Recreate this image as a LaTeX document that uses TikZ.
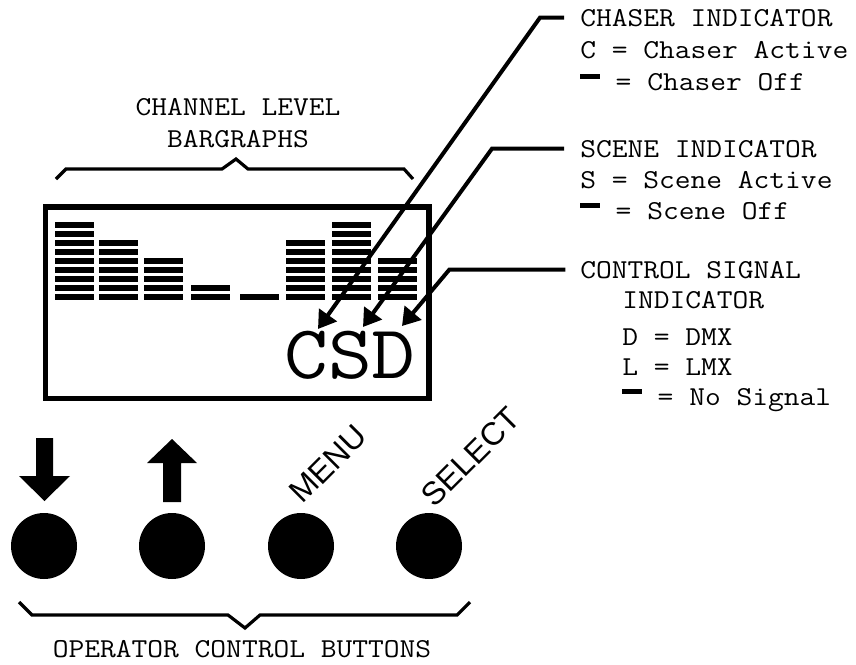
\documentclass[tikz,border=0pt]{standalone}
\usepackage{fontspec}
\usetikzlibrary{arrows.meta}
\newfontfamily\labfont[FakeStretch=1.12]{Latin Modern Mono}
\newfontfamily\btnfont{Liberation Sans}
\definecolor{ink}{HTML}{000000}
\tikzset{
  lab/.style={font=\labfont\fontsize{20.5}{24}\selectfont,anchor=base west,inner sep=0pt,text=ink},
  labc/.style={lab,anchor=base},
  big/.style={font=\labfont\fontsize{57}{62}\selectfont,anchor=base west,inner sep=0pt,text=ink},
  btnlab/.style={font=\btnfont\fontsize{24}{28}\selectfont,rotate=45,inner sep=0pt,text=ink},
  btn/.style={circle,fill=ink,minimum size=49.5pt,inner sep=0pt},
  lead/.style={-{Triangle[length=13pt,width=16pt]},line width=3pt,ink},
  brace/.style={line width=2.4pt,ink,line join=miter},
  lcd/.style={line width=4pt,ink},
  seg/.style={fill=ink}
}
\newcommand{\offbar}{\rule[0.4em]{0.72em}{0.17em}}

\begin{document}
\begin{tikzpicture}[x=0.75pt,y=-0.75pt]
\useasboundingbox (0,0) rectangle (856,664);
% ================= display =================
\draw[lcd] (45.5,207) rectangle (429,398.5);
% bargraphs: column left edge / number of segments
\foreach \x/\n in {55/9,99/7,144/5,191/2,240/1,286/7,332/9,378/5}
  {\foreach \r in {1,...,\n} {\fill[seg] (\x,300-\r*9+9) rectangle ++(39,-6);}}
\node[big] (csd) at (284,378) {CSD};
\coordinate (tipC) at (318,329);
\coordinate (tipS) at (363,327);
\coordinate (tipD) at (402,326);
% ================= bargraph label =================
\node[labc] (chan) at (238,115) {CHANNEL LEVEL};
\node[labc] (barg) at (238,147) {BARGRAPHS};
\draw[brace] (56,179) -- (66,169) -- (222,169) -- (236,159) -- (248,169) -- (404,169) -- (413,179);
% ================= indicators =================
\node[lab] (chaserT) at (580,26) {CHASER INDICATOR};
\node[lab] (chaserA) at (580,58) {C = Chaser Active};
\node[lab] (chaserO) at (580,90) {\offbar{} = Chaser Off};
\node[lab] (sceneT) at (580,157) {SCENE INDICATOR};
\node[lab] (sceneA) at (580,188) {S = Scene Active};
\node[lab] (sceneO) at (580,219) {\offbar{} = Scene Off};
\node[lab] (ctrlT) at (580,278) {CONTROL SIGNAL};
\node[lab] (ctrlI) at (622,308) {INDICATOR};
\node[lab] (ctrlD) at (622,345) {D = DMX};
\node[lab] (ctrlL) at (622,375) {L = LMX};
\node[lab] (ctrlO) at (622,405) {\offbar{} = No Signal};
\draw[lead] ([xshift=-12pt]chaserT.west) -- ++(-24,0) -- (tipC);
\draw[lead] ([xshift=-12pt]sceneT.west) -- ++(-72,0) -- (tipS);
\draw[lead] ([xshift=-11pt]ctrlT.west) -- ++(-116,0) -- (tipD);
% ================= buttons =================
\node[btn] (bDown) at (44,546) {};
\node[btn] (bUp) at (172,546) {};
\node[btn] (bMenu) at (301,546) {};
\node[btn] (bSel) at (429,546) {};
\fill[ink] (36,438) -- (53,438) -- (53,476) -- (70,476) -- (44.5,501) -- (19,476) -- (36,476) -- cycle;
\fill[ink] (163,502) -- (181,502) -- (181,463) -- (197,463) -- (172,439) -- (147,463) -- (163,463) -- cycle;
\node[btnlab] (menu) at (328,464) {MENU};
\node[btnlab] (sel) at (471,457) {SELECT};
\draw[brace] (19,602) -- (32,615) -- (228,615) -- (245,628) -- (260,615) -- (457,615) -- (470,602);
\node[labc] (oper) at (242,657) {OPERATOR CONTROL BUTTONS};
\end{tikzpicture}
\end{document}
